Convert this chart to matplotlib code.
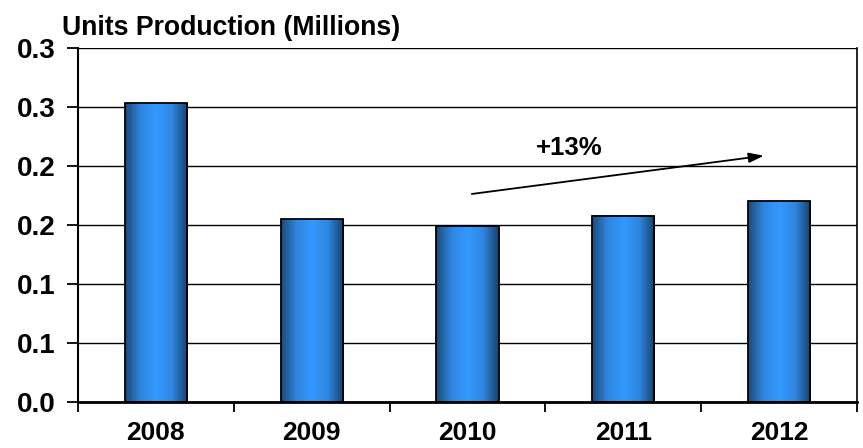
import numpy as np
import matplotlib.pyplot as plt
from matplotlib.colors import LinearSegmentedColormap
from matplotlib.ticker import MultipleLocator, FormatStrFormatter

plt.rcParams['font.family'] = ['Liberation Sans', 'DejaVu Sans']
plt.rcParams['font.weight'] = 'bold'

years = ['2008', '2009', '2010', '2011', '2012']
units = [0.253, 0.155, 0.149, 0.158, 0.170]
growth_label = '+13%'

fig = plt.figure(figsize=(8.63, 4.48), dpi=100)
ax = fig.add_axes([78 / 863, 46 / 448, 779 / 863, 354 / 448])

x = np.arange(len(years))
width = 0.4

# horizontal gradient for the cylinder look: dark edges, bright middle
shade = LinearSegmentedColormap.from_list(
    'bar', ['#1c4a78', '#2f86df', '#3399ff', '#2f86df', '#17406a'])
grad = np.linspace(0, 1, 256).reshape(1, -1)

ax.yaxis.set_major_locator(MultipleLocator(0.05))
ax.yaxis.set_major_formatter(FormatStrFormatter('%.1f'))
ax.grid(axis='y', color='black', linewidth=1.0)
ax.set_axisbelow(True)

bars = ax.bar(x, units, width, color='none', edgecolor='black', linewidth=1.3, zorder=3)
for b in bars:
    x0, y0 = b.get_x(), b.get_y()
    w, h = b.get_width(), b.get_height()
    ax.imshow(grad, cmap=shade, aspect='auto', extent=(x0, x0 + w, y0, y0 + h),
              zorder=2, interpolation='bicubic')
ax.set_xlim(-0.5, len(years) - 0.5)
ax.set_ylim(0, 0.3)

# category ticks sit between the bars
ax.set_xticks(np.arange(-0.5, len(years), 1.0))
ax.set_xticklabels([])
ax.set_xticks(x, minor=True)
ax.set_xticklabels(years, minor=True, fontsize=19, fontweight='bold')
ax.tick_params(axis='x', which='minor', length=0, pad=14)
ax.tick_params(axis='x', which='major', length=7, width=1.3, direction='out')
ax.tick_params(axis='y', length=8, width=1.3, labelsize=20, pad=8)
for lbl in ax.get_yticklabels():
    lbl.set_fontweight('bold')

ax.spines['top'].set_visible(False)
ax.spines['left'].set_linewidth(1.5)
ax.spines['right'].set_linewidth(1.2)
ax.spines['bottom'].set_linewidth(2.0)

ax.annotate('', xy=(3.92, 0.209), xytext=(2.01, 0.176),
            arrowprops=dict(arrowstyle='-|>,head_length=0.9,head_width=0.3',
                            color='black', lw=1.3))
ax.text(2.65, 0.215, growth_label, ha='center', va='center',
        fontsize=18.5, fontweight='bold')

fig.text(62 / 863, 1 - 28 / 448, 'Units Production (Millions)', ha='left', va='center',
         fontsize=19.2, fontweight='bold')

fig.savefig('out.png', dpi=100)
